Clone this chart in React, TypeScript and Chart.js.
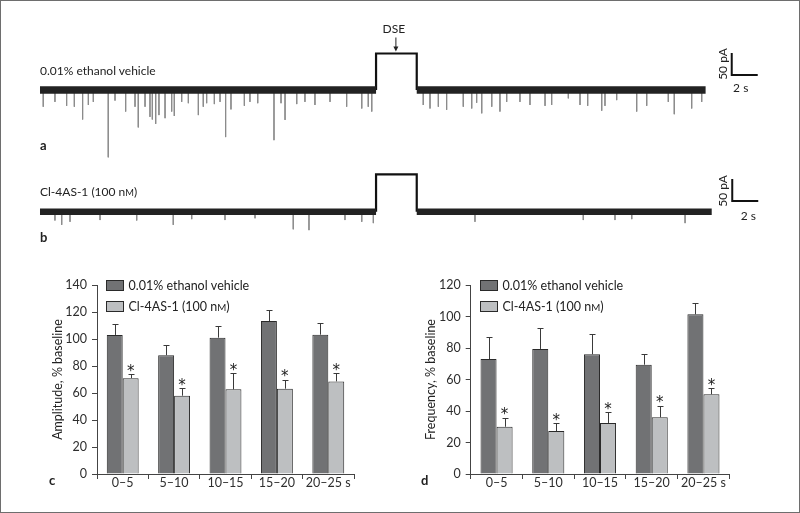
import React, { useEffect, useRef } from "react";
import { Chart, registerables } from "chart.js";

Chart.register(...registerables);

const FONT = "Lato, 'Liberation Sans', sans-serif";

// ---------- Trace a (time in s, current in pA) ----------
const traceA_end = 51.2;
const traceA_pulseStart = 25.85;
const traceA_pulseEnd = 28.98;
const traceA_pulseAmp = 83;
const traceA_spikeTimes = [
  0.25, 1.15, 2.05, 2.64, 3.28, 3.72, 4.1, 5.25, 5.77, 6.59, 7.31, 7.56, 8.08, 8.46, 8.64,
  8.9, 9.15, 9.62, 10.13, 10.33, 10.9, 11.41, 12.18, 12.56, 12.82, 13.41, 13.85, 14.28, 14.69,
  15.72, 16.15, 16.75, 18.0, 18.54, 18.85, 19.75, 20.38, 21.15, 22.31, 23.59, 24.75, 25.25, 25.52,
  29.48, 30.0, 30.64, 31.28, 32.56, 33.21, 33.59, 33.98, 34.75, 35.38, 35.9, 36.92, 37.69, 38.85,
  39.36, 40.64, 41.54, 42.13, 43.21, 43.46, 44.36, 45.9, 46.67, 48.33, 48.79, 50.13, 50.9,
];
const traceA_spikeAmps = [
  -38, -27, -36, -38, -67, -34, -27, -153, -24, -49, -38, -85, -38, -61, -67,
  -77, -57, -64, -49, -59, -27, -30, -57, -38, -30, -32, -27, -107, -44,
  -36, -27, -30, -114, -30, -68, -32, -27, -34, -27, -38, -42, -38, -49,
  -34, -42, -38, -45, -38, -42, -29, -53, -38, -49, -27, -27, -34, -36,
  -34, -19, -34, -36, -47, -36, -23, -49, -36, -27, -55, -42, -27,
];

// ---------- Trace b ----------
const traceB_end = 51.67;
const traceB_pulseStart = 25.85;
const traceB_pulseEnd = 28.98;
const traceB_pulseAmp = 85;
const traceB_spikeTimes = [
  1.15, 1.67, 2.31, 4.62, 7.44, 10.25, 11.67, 14.23, 16.54, 19.48, 20.69, 23.46, 24.75, 25.64,
  33.46, 41.79, 44.23, 45.52, 49.62,
];
const traceB_spikeAmps = [
  -20, -30, -23, -19, -20, -30, -17, -19, -15, -40, -42, -19, -23, -26,
  -23, -19, -19, -17, -26,
];

// ---------- Bar charts ----------
const timeBins = ["0–5", "5–10", "10–15", "15–20", "20–25 s"];
const seriesNames = ["0.01% ethanol vehicle", "Cl-4AS-1 (100 nM)"];
const ampVehicle = [103, 88, 101, 113.3, 103.2];
const ampVehicleSem = [8, 7.5, 8.6, 8.4, 8.4];
const ampCl = [71, 58, 62.7, 63.2, 68.6];
const ampClSem = [2.8, 5.5, 11.9, 6.8, 6];
const freqVehicle = [73, 79.4, 76, 69.4, 101.4];
const freqVehicleSem = [13.8, 13.1, 12.9, 6.6, 7.1];
const freqCl = [30, 27.3, 32.4, 36, 50.6];
const freqClSem = [5.8, 4.9, 6.7, 7.2, 3.8];
const ampMax = 140;
const freqMax = 120;
const tickStep = 20;

const DARK = "#717274";
const LIGHT = "#bdbfc1";
const EDGE = "#2a2a2a";

function drawSmallCapsText(ctx: CanvasRenderingContext2D, text: string, x: number, y: number, size: number) {
  const idx = text.indexOf("nM");
  ctx.font = `${size}px ${FONT}`;
  if (idx < 0) {
    ctx.fillText(text, x, y);
    return;
  }
  const a = text.slice(0, idx + 1);
  const b = text.slice(idx + 2);
  ctx.fillText(a, x, y);
  let w = ctx.measureText(a).width;
  ctx.font = `${size * 0.78}px ${FONT}`;
  ctx.fillText("M", x + w, y);
  w += ctx.measureText("M").width;
  ctx.font = `${size}px ${FONT}`;
  ctx.fillText(b, x + w, y);
}

const scaleBarPlugin = {
  id: "scalebar",
  afterDatasetsDraw(chart: any, _args: any, opts: any) {
    if (!opts || opts.x0 == null) return;
    const xs = chart.scales.x;
    const ys = chart.scales.y;
    const ctx = chart.ctx as CanvasRenderingContext2D;
    const px0 = xs.getPixelForValue(opts.x0);
    const px1 = xs.getPixelForValue(opts.x0 + opts.dx);
    const py0 = ys.getPixelForValue(opts.y0);
    const py1 = ys.getPixelForValue(opts.y0 + opts.dy);
    ctx.save();
    ctx.strokeStyle = "#111";
    ctx.lineWidth = 2;
    ctx.lineJoin = "miter";
    ctx.beginPath();
    ctx.moveTo(px0, py1);
    ctx.lineTo(px0, py0);
    ctx.lineTo(px1, py0);
    ctx.stroke();
    ctx.fillStyle = "#222";
    ctx.font = `12px ${FONT}`;
    ctx.textAlign = "center";
    ctx.textBaseline = "middle";
    ctx.fillText(opts.xLabel, (px0 + px1) / 2 + opts.xLabelDx, py0 + opts.xLabelDy);
    ctx.translate(px0 - opts.yLabelDx, (py0 + py1) / 2 + opts.yLabelDy);
    ctx.rotate(-Math.PI / 2);
    ctx.fillText(opts.yLabel, 0, 0);
    ctx.restore();

    if (opts.dse) {
      const ps = xs.getPixelForValue(opts.dse.start);
      const pe = xs.getPixelForValue(opts.dse.end);
      const ptop = ys.getPixelForValue(opts.dse.amp);
      const cx = (ps + pe) / 2 - 1;
      ctx.save();
      ctx.fillStyle = "#222";
      ctx.strokeStyle = "#222";
      ctx.font = `12px ${FONT}`;
      ctx.textAlign = "center";
      ctx.textBaseline = "middle";
      ctx.fillText("DSE", cx - 1.5, ptop - 24);
      ctx.lineWidth = 1;
      ctx.beginPath();
      ctx.moveTo(cx + 0.5, ptop - 16);
      ctx.lineTo(cx + 0.5, ptop - 5);
      ctx.stroke();
      ctx.beginPath();
      ctx.moveTo(cx + 0.5 - 2.5, ptop - 7);
      ctx.lineTo(cx + 0.5 + 2.5, ptop - 7);
      ctx.lineTo(cx + 0.5, ptop - 2);
      ctx.closePath();
      ctx.fill();
      ctx.restore();
    }
  },
};

function traceConfig(p: any) {
  const spikes: any[] = [];
  p.spikeT.forEach((t: number, i: number) => {
    spikes.push({ x: t, y: 0 }, { x: t, y: p.spikeA[i] }, { x: t, y: null });
  });
  return {
    type: "line",
    data: {
      datasets: [
        {
          data: [{ x: 0, y: 0 }, { x: p.pulseStart, y: 0 }],
          borderColor: "#222",
          borderWidth: p.band,
          order: 0,
        },
        {
          data: [{ x: p.pulseEnd, y: 0 }, { x: p.end, y: 0 }],
          borderColor: "#222",
          borderWidth: p.band,
          order: 0,
        },
        {
          data: [
            { x: p.pulseStart, y: 0 },
            { x: p.pulseStart, y: p.pulseAmp },
            { x: p.pulseEnd, y: p.pulseAmp },
            { x: p.pulseEnd, y: 0 },
          ],
          borderColor: "#111",
          borderWidth: 2.2,
          order: 0,
        },
        {
          data: spikes,
          borderColor: "#8c8c8c",
          borderWidth: 1,
          spanGaps: false,
          order: 1,
        },
      ],
    },
    options: {
      responsive: false,
      animation: false,
      events: [],
      layout: { padding: 0 },
      elements: {
        point: { radius: 0 },
        line: { tension: 0, borderCapStyle: "butt", borderJoinStyle: "miter", fill: false },
      },
      scales: {
        x: { type: "linear", display: false, min: p.xMin, max: p.xMax },
        y: { type: "linear", display: false, min: p.yMin, max: p.yMax },
      },
      plugins: {
        legend: { display: false },
        tooltip: { enabled: false },
        scalebar: p.scalebar,
      },
    },
    plugins: [scaleBarPlugin],
  };
}

const errorBarPlugin = {
  id: "errbars",
  afterDatasetsDraw(chart: any) {
    const ctx = chart.ctx as CanvasRenderingContext2D;
    const ys = chart.scales.y;
    chart.data.datasets.forEach((ds: any, i: number) => {
      const meta = chart.getDatasetMeta(i);
      meta.data.forEach((bar: any, j: number) => {
        const v = ds.data[j];
        const e = ds.errors[j];
        const top = ys.getPixelForValue(v + e);
        const base = ys.getPixelForValue(v);
        const x = Math.round(bar.x) + 0.5;
        ctx.save();
        ctx.strokeStyle = "#3a3a3a";
        ctx.lineWidth = 1;
        ctx.beginPath();
        ctx.moveTo(x, base);
        ctx.lineTo(x, Math.round(top) + 0.5);
        ctx.moveTo(x - 3, Math.round(top) + 0.5);
        ctx.lineTo(x + 3, Math.round(top) + 0.5);
        ctx.stroke();
        if (ds.star) {
          ctx.fillStyle = "#222";
          ctx.font = "15px 'DejaVu Sans', sans-serif";
          ctx.textAlign = "center";
          ctx.textBaseline = "alphabetic";
          ctx.fillText("*", bar.x, top + 1.5);
        }
        ctx.restore();
      });
    });
  },
};

const legendPlugin = {
  id: "vlegend",
  afterDraw(chart: any) {
    const ctx = chart.ctx as CanvasRenderingContext2D;
    const area = chart.chartArea;
    chart.data.datasets.forEach((ds: any, i: number) => {
      const bx = Math.round(area.left + 9) + 0.5;
      const by = Math.round(area.top - 5 + i * 21) + 0.5;
      ctx.save();
      ctx.fillStyle = ds.backgroundColor;
      ctx.strokeStyle = EDGE;
      ctx.lineWidth = 1;
      ctx.fillRect(bx, by, 17, 10);
      ctx.strokeRect(bx, by, 17, 10);
      ctx.fillStyle = "#222";
      ctx.textAlign = "left";
      ctx.textBaseline = "alphabetic";
      drawSmallCapsText(ctx, ds.label, bx + 22, by + 9.5, 12.5);
      ctx.restore();
    });
  },
};

function barConfig(p: any) {
  const tickFont = { family: FONT, size: 12.5 };
  return {
    type: "bar",
    data: {
      labels: timeBins,
      datasets: [
        {
          label: seriesNames[0],
          data: p.v1,
          errors: p.e1,
          star: false,
          backgroundColor: DARK,
          borderColor: EDGE,
          borderWidth: 1,
        },
        {
          label: seriesNames[1],
          data: p.v2,
          errors: p.e2,
          star: true,
          backgroundColor: LIGHT,
          borderColor: EDGE,
          borderWidth: 1,
        },
      ],
    },
    options: {
      responsive: false,
      animation: false,
      events: [],
      layout: { padding: { left: p.padLeft, right: p.padRight, top: 45, bottom: 9 } },
      datasets: { bar: { categoryPercentage: 0.62, barPercentage: 1 } },
      scales: {
        x: {
          offset: true,
          grid: { display: true, offset: true, drawOnChartArea: false, drawTicks: true, tickLength: 5, color: "#444" },
          border: { display: true, color: "#444", width: 1 },
          ticks: { color: "#2e2e2e", font: tickFont, padding: -4, maxRotation: 0 },
          afterFit(s: any) {
            s.height = 30;
          },
        },
        y: {
          min: 0,
          max: p.yMax,
          ticks: { stepSize: tickStep, color: "#2e2e2e", font: tickFont, padding: 5 },
          grid: { display: true, drawOnChartArea: false, drawTicks: true, tickLength: 5, color: "#444" },
          border: { display: true, color: "#444", width: 1 },
          title: {
            display: true,
            text: p.yTitle,
            color: "#222",
            font: { family: FONT, size: 12.5 },
            padding: { top: 4, bottom: 4 },
          },
          afterFit(s: any) {
            s.width = p.yWidth;
          },
        },
      },
      plugins: { legend: { display: false }, tooltip: { enabled: false } },
    },
    plugins: [errorBarPlugin, legendPlugin],
  };
}

function ChartBox({ make, left, top, width, height }: any) {
  const ref = useRef<HTMLCanvasElement>(null);
  useEffect(() => {
    const c = new Chart(ref.current as HTMLCanvasElement, make());
    return () => c.destroy();
  }, []);
  return (
    <canvas
      ref={ref}
      width={width}
      height={height}
      style={{ position: "absolute", left, top, width, height }}
    />
  );
}

// trace recordings drawn at 13 px per s and 0.44 px per pA
const traceAConfig = () =>
  traceConfig({
    spikeT: traceA_spikeTimes,
    spikeA: traceA_spikeAmps,
    end: traceA_end,
    pulseStart: traceA_pulseStart,
    pulseEnd: traceA_pulseEnd,
    pulseAmp: traceA_pulseAmp,
    band: 7.5,
    xMin: -0.769,
    xMax: 57.692,
    yMin: -170.4,
    yMax: 159.1,
    scalebar: {
      x0: 53.21, dx: 2, y0: 34.1, dy: 50,
      xLabel: "2 s", yLabel: "50 pA",
      xLabelDx: -4, xLabelDy: 13, yLabelDx: 9, yLabelDy: 0,
      dse: { start: traceA_pulseStart, end: traceA_pulseEnd, amp: traceA_pulseAmp },
    },
  });

const traceBConfig = () =>
  traceConfig({
    spikeT: traceB_spikeTimes,
    spikeA: traceB_spikeAmps,
    end: traceB_end,
    pulseStart: traceB_pulseStart,
    pulseEnd: traceB_pulseEnd,
    pulseAmp: traceB_pulseAmp,
    band: 6.5,
    xMin: -0.769,
    xMax: 57.692,
    yMin: -75.7,
    yMax: 106.1,
    scalebar: {
      x0: 53.25, dx: 2, y0: 24.3, dy: 50,
      xLabel: "2 s", yLabel: "50 pA",
      xLabelDx: 3, xLabelDy: 15, yLabelDx: 9.5, yLabelDy: 1,
    },
  });

const ampConfig = () =>
  barConfig({
    v1: ampVehicle, e1: ampVehicleSem, v2: ampCl, e2: ampClSem,
    yMax: ampMax, yTitle: "Amplitude, % baseline",
    padLeft: 46, yWidth: 51, padRight: 46,
  });

const freqConfig = () =>
  barConfig({
    v1: freqVehicle, e1: freqVehicleSem, v2: freqCl, e2: freqClSem,
    yMax: freqMax, yTitle: "Frequency, % baseline",
    padLeft: 19.5, yWidth: 51.2, padRight: 70.7,
  });

const labelStyle: any = {
  position: "absolute",
  fontFamily: FONT,
  fontSize: 12,
  lineHeight: "16px",
  color: "#222",
  whiteSpace: "nowrap",
};
const letterStyle: any = { ...labelStyle, fontWeight: 700, fontSize: 13 };

export default function App() {
  return (
    <div style={{ position: "absolute", left: 0, top: 0, width: 800, height: 513, background: "#fff", overflow: "hidden" }}>
      <ChartBox make={traceAConfig} left={30} top={20} width={760} height={145} />
      <ChartBox make={traceBConfig} left={30} top={165} width={760} height={80} />
      <ChartBox make={ampConfig} left={0} top={240} width={400} height={273} />
      <ChartBox make={freqConfig} left={400} top={240} width={400} height={273} />

      <div style={{ ...labelStyle, left: 40, top: 63 }}>0.01% ethanol vehicle</div>
      <div style={{ ...labelStyle, left: 40, top: 184 }}>
        Cl-4AS-1 (100 n<span style={{ fontSize: "0.78em" }}>M</span>)
      </div>
      <div style={{ ...letterStyle, left: 40, top: 137 }}>a</div>
      <div style={{ ...letterStyle, left: 40, top: 229 }}>b</div>
      <div style={{ ...letterStyle, left: 49, top: 472 }}>c</div>
      <div style={{ ...letterStyle, left: 421, top: 472 }}>d</div>

      <div
        style={{
          position: "absolute",
          left: 0,
          top: 0,
          width: 800,
          height: 513,
          boxSizing: "border-box",
          border: "1px solid #6e6e6e",
          pointerEvents: "none",
        }}
      />
    </div>
  );
}
